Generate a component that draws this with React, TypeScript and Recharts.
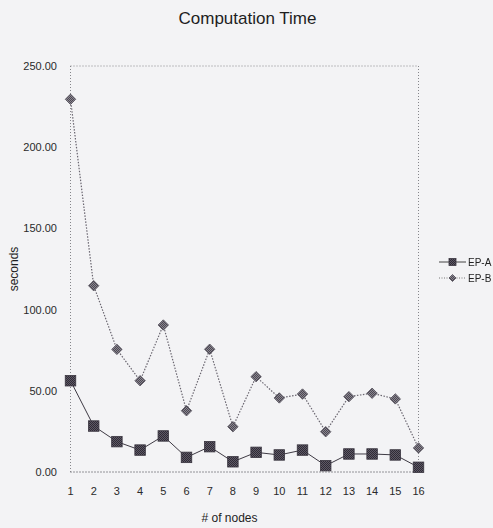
import React from 'react';
import {
  LineChart,
  Line,
  XAxis,
  YAxis,
  CartesianGrid,
  Legend,
} from 'recharts';

// Number of nodes (category axis)
const nodes = ['1', '2', '3', '4', '5', '6', '7', '8', '9', '10', '11', '12', '13', '14', '15', '16'];

// Computation time in seconds for each configuration
const epA = [56.2, 28.3, 18.7, 13.5, 22.2, 9.0, 15.6, 6.3, 12.1, 10.5, 13.5, 3.9, 11.1, 11.1, 10.5, 2.9];
const epB = [229.5, 114.7, 75.5, 56.2, 90.5, 37.7, 75.6, 27.9, 58.7, 45.6, 48.0, 24.8, 46.4, 48.5, 45.0, 14.8];

const yTicks = [0, 50, 100, 150, 200, 250];

const data = nodes.map((n, i) => ({ node: n, 'EP-A': epA[i], 'EP-B': epB[i] }));

const FONT = '"Liberation Sans", Arial, sans-serif';
const GRID = '#85858a';

const SquareDot = ({ cx, cy, size = 10.5 }: { cx: number; cy: number; size?: number }) => (
  <rect
    x={cx - size / 2}
    y={cy - size / 2}
    width={size}
    height={size}
    fill="url(#checkDark)"
    stroke="#3a3640"
    strokeWidth={0.8}
  />
);

const DiamondDot = ({ cx, cy, r = 5.2 }: { cx: number; cy: number; r?: number }) => (
  <polygon
    points={`${cx},${cy - r} ${cx + r},${cy} ${cx},${cy + r} ${cx - r},${cy}`}
    fill="url(#checkLight)"
    stroke="#4e4a55"
    strokeWidth={0.8}
  />
);

const LegendContent = () => (
  <svg width={56} height={34} style={{ position: 'absolute', left: 0, top: 0, overflow: 'visible' }}>
    <g>
      <line x1={1} x2={28} y1={8} y2={8} stroke="#444" strokeWidth={1} />
      <SquareDot cx={14.5} cy={8} size={7} />
      <text x={30} y={8} dy="0.35em" fontSize={10} fontFamily={FONT} fill="#222">
        EP-A
      </text>
    </g>
    <g>
      <line x1={1} x2={28} y1={24} y2={24} stroke="#777" strokeWidth={1} strokeDasharray="1 1.5" />
      <DiamondDot cx={14.5} cy={24} r={3.5} />
      <text x={30} y={24} dy="0.35em" fontSize={10} fontFamily={FONT} fill="#222">
        EP-B
      </text>
    </g>
  </svg>
);

export default function App() {
  return (
    <div
      style={{
        position: 'fixed',
        left: 0,
        top: 0,
        width: 493,
        height: 528,
        background: '#f3f3f5',
        fontFamily: FONT,
      }}
    >
      <div
        style={{
          position: 'absolute',
          top: 10,
          left: 0,
          width: 495,
          textAlign: 'center',
          fontSize: 17,
          lineHeight: '17px',
          color: '#1e1e1e',
        }}
      >
        Computation Time
      </div>
      <LineChart
        width={493}
        height={528}
        data={data}
        margin={{ top: 66, right: 73.5, bottom: 0, left: 0 }}
      >
        <defs>
          <pattern id="checkDark" width="2" height="2" patternUnits="userSpaceOnUse">
            <rect width="2" height="2" fill="#5e5966" />
            <rect width="1" height="1" fill="#2f2b35" />
            <rect x="1" y="1" width="1" height="1" fill="#2f2b35" />
          </pattern>
          <pattern id="checkLight" width="2" height="2" patternUnits="userSpaceOnUse">
            <rect width="2" height="2" fill="#8a8690" />
            <rect width="1" height="1" fill="#4c4852" />
            <rect x="1" y="1" width="1" height="1" fill="#4c4852" />
          </pattern>
        </defs>
        <CartesianGrid stroke={GRID} strokeDasharray="1 2" vertical={false} />
        <XAxis
          dataKey="node"
          height={56}
          tickLine={false}
          tickSize={0}
          tickMargin={15}
          axisLine={{ stroke: GRID, strokeDasharray: '1 2', strokeWidth: 1 }}
          tick={{ fontSize: 11, fill: '#2a2a2a', fontFamily: FONT }}
          interval={0}
          label={{
            value: '# of nodes',
            position: 'insideBottom',
            offset: 6,
            dx: -15,
            fontSize: 12,
            fill: '#1e1e1e',
            fontFamily: FONT,
          }}
        />
        <YAxis
          yAxisId="left"
          width={70.5}
          domain={[0, 250]}
          ticks={yTicks}
          tickFormatter={(v: number) => v.toFixed(2)}
          tickLine={false}
          tickSize={0}
          tickMargin={13.5}
          axisLine={{ stroke: GRID, strokeDasharray: '1 2', strokeWidth: 1 }}
          tick={{ fontSize: 11, fill: '#2a2a2a', fontFamily: FONT }}
          label={{
            value: 'seconds',
            angle: -90,
            position: 'center',
            dx: -22,
            fontSize: 12,
            fill: '#1e1e1e',
            fontFamily: FONT,
          }}
        />
        <YAxis
          yAxisId="right"
          orientation="right"
          width={1}
          domain={[0, 250]}
          ticks={yTicks}
          tick={false}
          tickLine={false}
          axisLine={{ stroke: GRID, strokeDasharray: '1 2', strokeWidth: 1 }}
        />
        <Legend
          layout="vertical"
          content={() => <LegendContent />}
          wrapperStyle={{ position: 'absolute', left: 438, top: 254, width: 0, height: 0, overflow: 'visible' }}
        />
        <Line
          yAxisId="left"
          type="linear"
          dataKey="EP-B"
          stroke="#6a6670"
          strokeWidth={1.2}
          strokeDasharray="1.5 1.5"
          isAnimationActive={false}
          dot={(p: any) => <DiamondDot key={`b-${p.index}`} cx={p.cx} cy={p.cy} />}
          activeDot={false}
        />
        <Line
          yAxisId="left"
          type="linear"
          dataKey="EP-A"
          stroke="#3e3a44"
          strokeWidth={1}
          isAnimationActive={false}
          dot={(p: any) => <SquareDot key={`a-${p.index}`} cx={p.cx} cy={p.cy} />}
          activeDot={false}
        />
      </LineChart>
    </div>
  );
}
